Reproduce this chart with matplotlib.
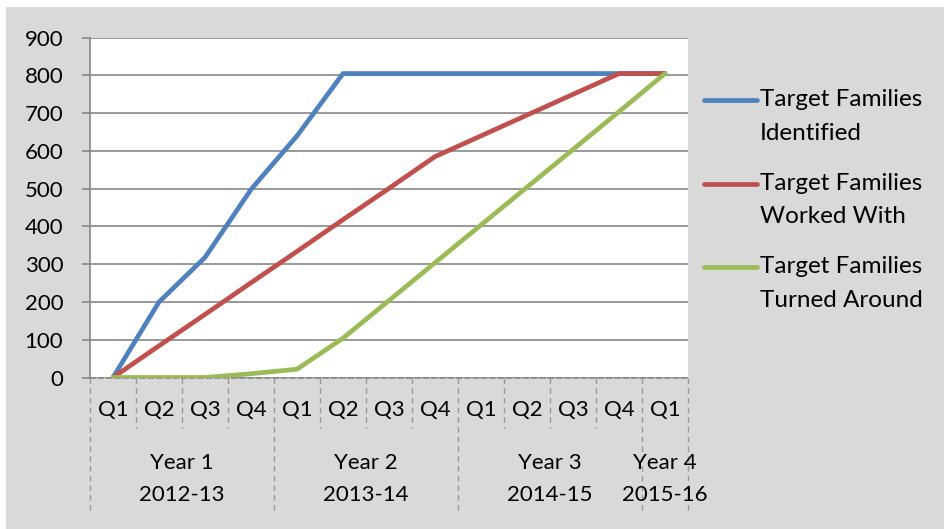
import matplotlib
matplotlib.use("Agg")
import matplotlib.pyplot as plt
from matplotlib.patches import Rectangle
from matplotlib.lines import Line2D
import matplotlib.transforms as mtransforms

plt.rcParams['font.family'] = ['Lato', 'DejaVu Sans']

quarters = ["Q1", "Q2", "Q3", "Q4", "Q1", "Q2", "Q3", "Q4", "Q1", "Q2", "Q3", "Q4", "Q1"]
years = ["Year 1\n2012-13", "Year 2\n2013-14", "Year 3\n2014-15", "Year 4\n2015-16"]
quarters_per_year = [4, 4, 4, 1]

identified = [0, 200, 318, 498, 640, 805, 805, 805, 805, 805, 805, 805, 805]
worked_with = [0, 84, 167, 251, 334, 418, 501, 585, 640, 695, 750, 805, 805]
turned_around = [0, 0, 0, 10, 22, 104, 204, 304, 404, 504, 604, 704, 805]

series = [
    ("Target Families\nIdentified", identified, "#4F81BD"),
    ("Target Families\nWorked With", worked_with, "#C0504D"),
    ("Target Families\nTurned Around", turned_around, "#9BBB59"),
]

fig = plt.figure(figsize=(9.44, 5.29), dpi=100)
fig.patch.set_facecolor("white")
fig.add_artist(Rectangle((6 / 944, 0), 1, 1 - 7 / 529, transform=fig.transFigure,
                         facecolor="#D9D9D9", edgecolor="none", zorder=0))

ax = fig.add_axes([90 / 944, 1 - 377.5 / 529, 598 / 944, 339.8 / 529])
ax.set_facecolor("white")

n = len(quarters)
xs = list(range(n))
for label, vals, color in series:
    ax.plot(xs, vals, color=color, linewidth=3.4, solid_capstyle="round", zorder=3)

ax.set_xlim(-0.5, n - 0.5)
ax.set_ylim(0, 900)
ax.set_yticks(range(0, 901, 100))
ax.yaxis.grid(True, color="#878787", linewidth=1.2)
ax.set_axisbelow(True)
ax.tick_params(axis="y", length=5.8, color="#878787", width=1.2, labelsize=16, pad=13.5)
ax.set_xticks(xs)
ax.set_xticklabels(quarters)
ax.tick_params(axis="x", length=0, labelsize=16, pad=16)

for s in ["top", "right"]:
    ax.spines[s].set_visible(False)
ax.spines["left"].set_color("#878787")
ax.spines["left"].set_linewidth(1.2)
ax.spines["bottom"].set_color("#878787")
ax.spines["bottom"].set_linestyle((0, (3, 2)))
ax.spines["bottom"].set_linewidth(1.2)

trans = mtransforms.blended_transform_factory(ax.transData, ax.transAxes)
bounds = [0]
for q in quarters_per_year:
    bounds.append(bounds[-1] + q)

# dashed separators: short between quarters, long between years
for b in range(n + 1):
    bottom = -0.396 if b in bounds else -0.149
    ax.plot([b - 0.5, b - 0.5], [0, bottom], transform=trans, clip_on=False,
            color="#999999", linewidth=1.0, linestyle=(0, (4, 3)))

for i, yl in enumerate(years):
    cx = (bounds[i] + bounds[i + 1]) / 2 - 0.5
    ax.text(cx, -0.3, yl, transform=trans, ha="center", va="center",
            fontsize=16, linespacing=1.75)

# legend
for i, (label, vals, color) in enumerate(series):
    y = 1 - (100 + 83.5 * i) / 529
    fig.add_artist(Line2D([704 / 944, 757 / 944], [y, y], transform=fig.transFigure,
                          color=color, linewidth=3.4, solid_capstyle="round"))
    fig.text(760 / 944, y + 11 / 529, label, ha="left", va="top",
             fontsize=17.5, linespacing=1.75)

fig.savefig("out.png", dpi=100, facecolor=fig.get_facecolor())
